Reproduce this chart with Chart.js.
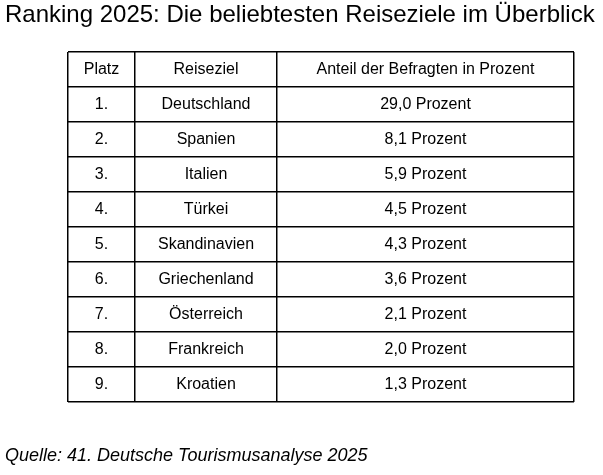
<!DOCTYPE html>
<html lang="de">
<head>
<meta charset="utf-8">
<title>Ranking 2025</title>
<script src="https://cdn.jsdelivr.net/npm/chart.js@4/dist/chart.umd.min.js"></script>
<style>
  html, body { margin: 0; padding: 0; background: #ffffff; }
  #wrap { width: 603px; height: 475px; position: relative; }
</style>
</head>
<body>
<div id="wrap"><canvas id="c"></canvas></div>
<script>
// ---- data ----
const titleText = 'Ranking 2025: Die beliebtesten Reiseziele im Überblick';
const sourceText = 'Quelle: 41. Deutsche Tourismusanalyse 2025';
const headers = ['Platz', 'Reiseziel', 'Anteil der Befragten in Prozent'];
const platz = ['1.', '2.', '3.', '4.', '5.', '6.', '7.', '8.', '9.'];
const reiseziele = ['Deutschland', 'Spanien', 'Italien', 'Türkei', 'Skandinavien', 'Griechenland', 'Österreich', 'Frankreich', 'Kroatien'];
const anteile = [29.0, 8.1, 5.9, 4.5, 4.3, 3.6, 2.1, 2.0, 1.3];

// ---- layout (not data) ----
const colEdges = [0, 67, 209, 506];   // column boundaries in x-scale units
const FONT = '"Liberation Sans", Arial, Helvetica, sans-serif';

const fmt = v => v.toFixed(1).replace('.', ',') + ' Prozent';
const columns = [
  [headers[0]].concat(platz),
  [headers[1]].concat(reiseziele),
  [headers[2]].concat(anteile.map(fmt))
];
const nRows = columns[0].length;

const datasets = columns.map((col, j) => ({
  label: headers[j],
  labels: col,
  data: col.map((_, i) => ({ x: (colEdges[j] + colEdges[j + 1]) / 2, y: i + 0.5 })),
  pointRadius: 0,
  pointHoverRadius: 0,
  showLine: false
}));

const cellText = {
  id: 'cellText',
  afterDatasetsDraw(chart) {
    const ctx = chart.ctx;
    ctx.save();
    ctx.fillStyle = '#000000';
    ctx.font = '16px ' + FONT;
    ctx.textAlign = 'center';
    ctx.textBaseline = 'middle';
    chart.data.datasets.forEach((ds, j) => {
      const meta = chart.getDatasetMeta(j);
      meta.data.forEach((el, i) => {
        ctx.fillText(ds.labels[i], el.x, el.y);
      });
    });
    ctx.restore();
  }
};

const padLeft = 5;

new Chart(document.getElementById('c'), {
  type: 'scatter',
  data: { datasets },
  plugins: [cellText],
  options: {
    responsive: true,
    maintainAspectRatio: false,
    animation: false,
    events: [],
    layout: { padding: { left: padLeft, right: 0, top: 0, bottom: 0 } },
    plugins: {
      legend: { display: false },
      tooltip: { enabled: false },
      title: {
        display: true,
        text: titleText,
        align: 'start',
        color: '#000000',
        font: { family: FONT, size: 24, weight: 'normal', lineHeight: 1.2 },
        padding: { top: 1.3, bottom: 21.9 }
      },
      subtitle: {
        display: true,
        position: 'bottom',
        text: sourceText,
        align: 'start',
        color: '#000000',
        font: { family: FONT, size: 18, style: 'italic', weight: 'normal', lineHeight: 1.2 },
        padding: { top: 43, bottom: 8.4 }
      }
    },
    scales: {
      x: {
        type: 'linear',
        position: 'bottom',
        min: colEdges[0],
        max: colEdges[colEdges.length - 1],
        afterBuildTicks(scale) { scale.ticks = colEdges.map(v => ({ value: v })); },
        ticks: { display: false },
        border: { display: false },
        grid: { display: true, color: '#000000', lineWidth: 1.5, drawTicks: false }
      },
      y: {
        type: 'linear',
        position: 'left',
        reverse: true,
        min: 0,
        max: nRows,
        afterBuildTicks(scale) {
          const t = [];
          for (let i = 0; i <= nRows; i++) t.push({ value: i });
          scale.ticks = t;
        },
        afterFit(scale) { scale.width = 68 - padLeft; },
        ticks: { display: false },
        border: { display: false },
        grid: { display: true, color: '#000000', lineWidth: 1.5, drawTicks: false }
      },
      yRight: {
        type: 'linear',
        position: 'right',
        display: true,
        afterFit(scale) { scale.width = 29; },
        ticks: { display: false },
        border: { display: false },
        grid: { display: false, drawTicks: false }
      }
    }
  }
});
</script>
</body>
</html>
